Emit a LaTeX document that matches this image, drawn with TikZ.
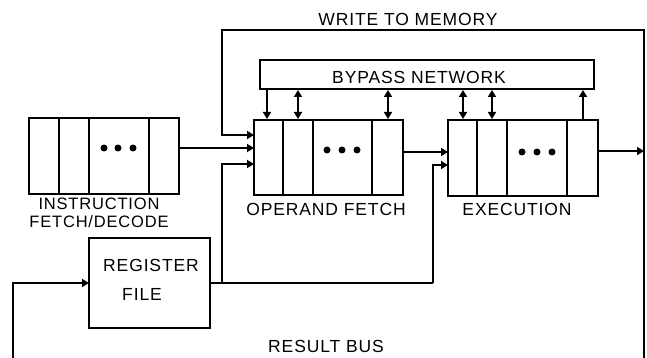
\documentclass[tikz,border=0pt]{standalone}
\usepackage{fontspec}
\setmainfont{Liberation Sans}[LetterSpace=5]
\usetikzlibrary{arrows.meta}
\begin{document}
\begin{tikzpicture}[x=1pt,y=-1pt,
  line width=2pt,
  arr/.style={-{Triangle[length=7pt,width=8pt]}},
  darr/.style={{Triangle[length=7pt,width=8pt]}-{Triangle[length=7pt,width=8pt]}},
  box/.style={draw,rectangle,inner sep=0pt,line width=2pt},
  lbl/.style={font=\fontsize{17.5}{14.5}\selectfont,inner sep=0pt,anchor=center,align=center},
  dot/.style={fill,circle,inner sep=0pt,minimum size=7pt}]
\useasboundingbox (0,0) rectangle (647,358);
% boxes
\node[box,minimum width=150pt,minimum height=76pt] (ifd) at (104,156) {};
\node[box,minimum width=149pt,minimum height=75pt] (of) at (328.5,157.5) {};
\node[box,minimum width=150pt,minimum height=76pt] (ex) at (523,158) {};
\node[box,minimum width=334pt,minimum height=29pt] (bp) at (427,74.5) {};
\node[box,minimum width=121pt,minimum height=90pt] (rf) at (149.5,283) {};
% dividers
\foreach \x in {59,89,149} \draw (\x,118) -- (\x,194);
\foreach \x in {283,313,372} \draw (\x,120) -- (\x,195);
\foreach \x in {477,507,567} \draw (\x,120) -- (\x,196);
% dots
\foreach \x in {104,118,133} \node[dot] at (\x,148) {};
\foreach \x in {327,342,357} \node[dot] at (\x,150) {};
\foreach \x in {522,537,552} \node[dot] at (\x,152) {};
% texts
\node[lbl] (twm) at (408,19) {WRITE TO MEMORY};
\node[lbl] (tbp) at (419,77) {BYPASS NETWORK};
\node[lbl,font=\fontsize{16.5}{17.5}\selectfont] (ti) at (99,213) {INSTRUCTION\\FETCH/DECODE};
\node[lbl] (tof) at (326,209) {OPERAND FETCH};
\node[lbl] (tex) at (517,209) {EXECUTION};
\node[lbl] (trg) at (151,265) {REGISTER};
\node[lbl] (tfl) at (142,294) {FILE};
\node[lbl] (trb) at (326,346) {RESULT BUS};
% coordinates
\coordinate (rbR) at (644,358);
\coordinate (rbL) at (13,358);
\coordinate (wm) at (222,30);
\coordinate (ofin1) at (254,135);
\coordinate (ofin2) at (254,148);
\coordinate (ofin3) at (254,164);
\coordinate (ifdout) at (179,148);
\coordinate (rfout) at (210,283);
\coordinate (rfin) at (89,283);
\coordinate (br1) at (222,283);
\coordinate (br2) at (433,283);
\coordinate (exin1) at (448,152);
\coordinate (exin2) at (448,165);
\coordinate (ofout) at (403,152);
\coordinate (exout) at (598,151);
\coordinate (exbus) at (644,151);
% connectors
\draw[arr] (rbR) |- (wm) |- (ofin1);
\draw[arr] (ifdout) -- (ofin2);
\draw (rfout) -- (br2);
\draw[arr] (br1) |- (ofin3);
\draw[arr] (br2) |- (exin2);
\draw[arr] (ofout) -- (exin1);
\draw[arr] (exout) -- (exbus);
\draw[arr] (rbL) |- (rfin);
% bypass links
\draw[arr] (bp.south -| 267,0) -- (of.north -| 267,0);
\foreach \x in {298,388} \draw[darr] (bp.south -| \x,0) -- (of.north -| \x,0);
\foreach \x in {463,492} \draw[darr] (bp.south -| \x,0) -- (ex.north -| \x,0);
\draw[arr] (ex.north -| 583,0) -- (bp.south -| 583,0);
\end{tikzpicture}
\end{document}
